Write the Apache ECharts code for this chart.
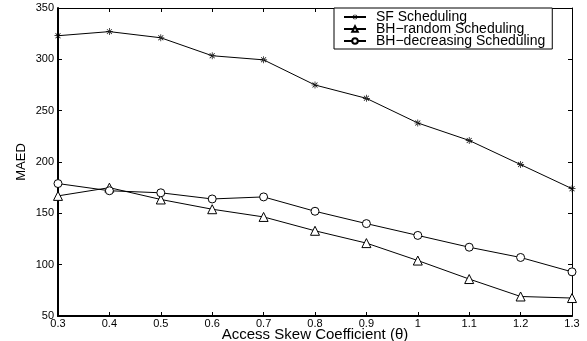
<!DOCTYPE html>
<html>
<head>
<meta charset="utf-8">
<script src="https://cdn.jsdelivr.net/npm/echarts@6/dist/echarts.min.js"></script>
<style>
html, body { margin: 0; padding: 0; background: #fff; }
#main { width: 587px; height: 341px; }
</style>
</head>
<body>
<div id="main"></div>
<script>
var thetas = ['0.3', '0.4', '0.5', '0.6', '0.7', '0.8', '0.9', '1', '1.1', '1.2', '1.3'];
var sfSched = [323, 327, 321, 303.5, 299.5, 275, 262, 238, 221, 197.5, 174];
var bhRandom = [167, 175, 163.5, 154, 146.5, 133, 121, 104, 86, 69, 67.5];
var bhDecreasing = [179, 172, 170, 164, 166, 152, 140, 128.5, 117, 107, 93];

// 8-point asterisk marker, like the '*' marker of the original plot
var star = 'path://M-0.5,-5 h1 v10 h-1 z M-5,-0.5 h10 v1 h-10 z ' +
    'M-3.9,-3.2 L3.2,3.9 L3.9,3.2 L-3.2,-3.9 z M3.2,-3.9 L-3.9,3.2 L-3.2,3.9 L3.9,-3.2 z';

var font = 'Liberation Sans';
var myChart = echarts.init(document.getElementById('main'));
var option = {
    animation: false,
    textStyle: { fontFamily: font },
    grid: { left: 58, right: 15, top: 8, bottom: 25, outerBoundsMode: 'none' },
    legend: {
        orient: 'vertical',
        left: 334,
        top: 8,
        padding: [2, 7, 1, 9],
        itemGap: -2,
        itemWidth: 22,
        itemHeight: 7,
        borderColor: '#000',
        borderWidth: 1,
        borderRadius: 0,
        backgroundColor: '#fff',
        textStyle: { fontSize: 14, color: '#000', fontFamily: font, padding: [0, 0, 0, 5] },
        data: ['SF Scheduling', 'BH\u2212random Scheduling', 'BH\u2212decreasing Scheduling']
    },
    xAxis: [{
        type: 'category',
        boundaryGap: false,
        data: thetas,
        name: 'Access Skew Coefficient (\u03b8)',
        nameLocation: 'middle',
        nameGap: 11,
        nameMoveOverlap: false,
        nameTextStyle: { fontSize: 15, color: '#000' },
        axisLine: { lineStyle: { color: '#000', width: 2 } },
        axisTick: { inside: true, length: 4, lineStyle: { color: '#000' } },
        axisLabel: { fontSize: 11, color: '#000', margin: 2, interval: 0 },
        splitLine: { show: false }
    }, {
        type: 'category',
        position: 'top',
        boundaryGap: false,
        data: thetas,
        axisLine: { lineStyle: { color: '#000', width: 1 } },
        axisTick: { inside: true, length: 4, lineStyle: { color: '#000' } },
        axisLabel: { show: false }
    }],
    yAxis: [{
        type: 'value',
        min: 50,
        max: 350,
        interval: 50,
        name: 'MAED',
        nameLocation: 'middle',
        nameGap: 30,
        nameMoveOverlap: false,
        nameTextStyle: { fontSize: 13, color: '#000' },
        axisLine: { show: true, lineStyle: { color: '#000', width: 2 } },
        axisTick: { show: true, inside: true, length: 4, lineStyle: { color: '#000' } },
        axisLabel: { fontSize: 11, color: '#000', margin: 4 },
        splitLine: { show: false }
    }, {
        type: 'value',
        position: 'right',
        min: 50,
        max: 350,
        interval: 50,
        axisLine: { show: true, lineStyle: { color: '#000', width: 1 } },
        axisTick: { show: true, inside: true, length: 4, lineStyle: { color: '#000' } },
        axisLabel: { show: false },
        splitLine: { show: false }
    }],
    series: [
        {
            name: 'SF Scheduling',
            type: 'line',
            data: sfSched,
            symbol: star,
            symbolSize: 7,
            itemStyle: { color: '#000' },
            lineStyle: { color: '#000', width: 1 }
        },
        {
            name: 'BH\u2212random Scheduling',
            type: 'line',
            data: bhRandom,
            symbol: 'triangle',
            symbolSize: 9,
            itemStyle: { color: '#fff', borderColor: '#000', borderWidth: 1 },
            lineStyle: { color: '#000', width: 1 }
        },
        {
            name: 'BH\u2212decreasing Scheduling',
            type: 'line',
            data: bhDecreasing,
            symbol: 'circle',
            symbolSize: 8,
            itemStyle: { color: '#fff', borderColor: '#000', borderWidth: 1 },
            lineStyle: { color: '#000', width: 1 }
        }
    ]
};
myChart.setOption(option);
</script>
</body>
</html>
